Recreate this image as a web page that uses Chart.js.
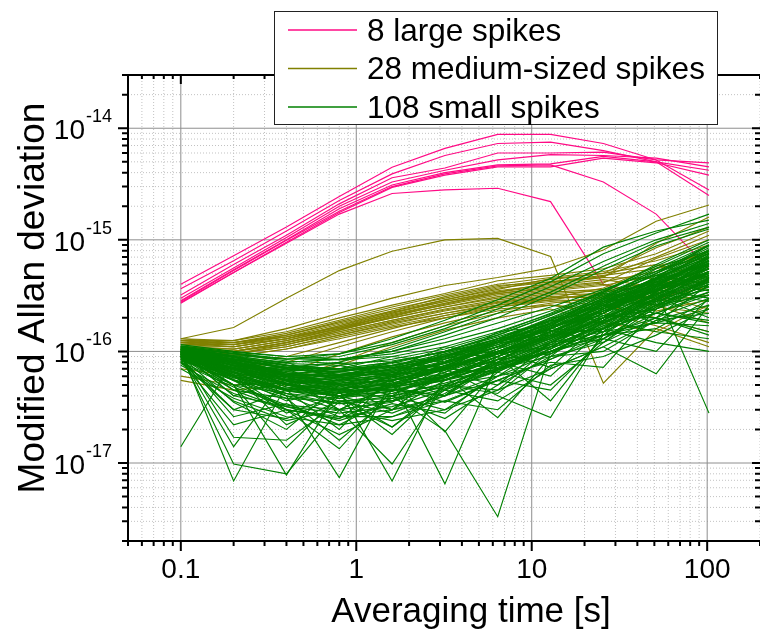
<!DOCTYPE html>
<html>
<head>
<meta charset="utf-8">
<script src="https://cdn.jsdelivr.net/npm/chart.js@4.4.0/dist/chart.umd.min.js"></script>
<style>
  body { margin: 0; background: #fff; }
  canvas { display: block; }
</style>
</head>
<body>
<canvas id="allan" width="760" height="637"></canvas>
<script>
// averaging times [s]
const tau = [0.1, 0.2, 0.4, 0.8, 1.6, 3.2, 6.4, 12.8, 25.6, 51.2, 102.4];
// all deviations below are given in units of 1e-16
const UNIT = 1e-16;

const largeSpikes = [
  [4.0, 7.2, 13, 24.5, 44.7, 66, 88, 88, 73, 52, 28],
  [3.65, 6.5, 12, 22.5, 39, 57, 73, 75, 63, 50, 25],
  [3.2, 6.0, 11, 21, 36, 44, 60, 60, 61, 52, 49],
  [3.0, 5.6, 10.5, 20, 33, 42, 52, 58, 57, 54, 45],
  [2.85, 5.4, 10, 19, 31, 40, 47, 48, 56, 50, 42],
  [2.7, 5.1, 9.5, 17.6, 29.5, 38, 45, 45, 54, 49, 38],
  [2.8, 5.3, 9.9, 18, 30, 39, 46, 47, 33, 17, 5.5],
  [2.75, 5.1, 9.3, 17, 26, 28, 29, 22, 4.0, 2.9, 4.3]
];

const mediumSpikes = [
  [1.3, 1.64, 3.0, 5.3, 7.9, 10, 10.3, 7.1, 0.52, 1.6, 1.1],
  [1.25, 1.25, 1.6, 2.2, 3.0, 3.9, 4.6, 5.6, 8.1, 14.7, 20.5],
  [1.3, 1.25, 1.5, 2.0, 2.6, 3.3, 4.3, 4.8, 5.5, 7.5, 12],
  [1.25, 1.2, 1.45, 1.9, 2.5, 3.2, 4.0, 4.6, 5.2, 6.5, 9],
  [1.2, 1.2, 1.4, 1.85, 2.4, 3.0, 3.8, 4.4, 5.0, 6.0, 4.6],
  [1.2, 1.15, 1.4, 1.8, 2.3, 2.9, 3.7, 4.2, 4.8, 5.5, 7],
  [1.15, 1.15, 1.35, 1.75, 2.25, 2.8, 3.5, 4.0, 4.6, 4.5, 3.5],
  [1.15, 1.1, 1.3, 1.7, 2.2, 2.8, 3.4, 3.9, 4.4, 3.8, 5.5],
  [1.1, 1.1, 1.3, 1.65, 2.1, 2.7, 3.3, 3.8, 4.2, 5.2, 8],
  [1.1, 1.05, 1.25, 1.6, 2.1, 2.6, 3.2, 3.6, 4.0, 3.2, 2.4],
  [1.1, 1.05, 1.25, 1.6, 2.0, 2.5, 3.1, 3.5, 3.9, 4.8, 6],
  [1.05, 1.0, 1.2, 1.55, 2.0, 2.5, 3.0, 3.4, 3.6, 2.8, 3.2],
  [1.05, 1.0, 1.2, 1.5, 1.9, 2.4, 2.9, 3.3, 3.5, 4.2, 5.0],
  [1.0, 1.0, 1.15, 1.5, 1.9, 2.35, 2.8, 3.2, 3.3, 2.6, 1.8],
  [1.0, 0.95, 1.15, 1.45, 1.85, 2.3, 2.75, 3.1, 3.0, 3.6, 4.4],
  [1.0, 0.95, 1.1, 1.4, 1.8, 2.2, 2.7, 3.0, 3.2, 2.3, 2.9],
  [0.95, 0.95, 1.1, 1.4, 1.75, 2.2, 2.6, 2.9, 2.8, 3.0, 3.8],
  [0.95, 0.9, 1.05, 1.35, 1.7, 2.1, 2.5, 2.8, 2.6, 2.0, 1.5],
  [1.3, 1.2, 1.35, 1.65, 2.2, 2.9, 3.6, 4.5, 5.0, 8.5, 13],
  [1.2, 1.1, 1.3, 1.7, 2.3, 3.1, 3.9, 4.2, 4.6, 9.3, 16],
  [1.1, 1.0, 1.2, 1.55, 2.05, 2.65, 3.3, 3.7, 4.1, 6.8, 10],
  [0.85, 0.7, 0.8, 1.1, 1.5, 2.0, 2.5, 2.9, 3.4, 4.0, 4.6],
  [0.7, 0.6, 0.65, 0.95, 1.35, 1.8, 2.3, 2.7, 3.1, 2.5, 2.2],
  [0.6, 0.5, 0.55, 0.8, 1.2, 1.7, 2.2, 2.6, 2.4, 3.3, 5.2],
  [0.55, 0.45, 0.5, 0.75, 1.1, 1.55, 2.0, 2.4, 1.8, 1.5, 2.6],
  [0.9, 0.8, 0.9, 1.2, 1.6, 2.1, 2.6, 3.0, 3.7, 5.8, 7.5],
  [1.25, 1.15, 1.3, 1.6, 2.15, 2.7, 3.4, 4.1, 4.7, 7.0, 11],
  [1.0, 0.9, 1.05, 1.3, 1.65, 2.0, 2.4, 2.6, 2.2, 1.7, 1.2]
];

const smallSpikes = [
  [1.1, 0.9, 0.75, 0.7, 0.8, 1.0, 1.4, 2.1, 3.4, 6.0, 10],
  [1.05, 0.85, 0.72, 0.8, 1.05, 1.5, 2.2, 3.4, 5.8, 9.5, 13],
  [1.0, 0.8, 0.62, 0.6, 0.7, 0.9, 1.25, 1.9, 3.0, 5.0, 8.5],
  [0.95, 0.7, 0.55, 0.5, 0.55, 0.75, 1.1, 1.7, 2.8, 4.6, 7.0],
  [1.0, 0.75, 0.5, 0.42, 0.5, 0.7, 1.0, 1.5, 2.4, 4.2, 6.5],
  [0.9, 0.6, 0.45, 0.4, 0.48, 0.65, 0.95, 1.4, 2.3, 3.8, 5.5],
  [1.1, 0.95, 0.85, 0.95, 1.3, 1.9, 2.9, 4.5, 8.6, 12, 15],
  [0.85, 0.55, 0.38, 0.35, 0.42, 0.6, 0.9, 1.35, 2.2, 3.6, 6.0],
  [1.0, 0.85, 0.8, 0.85, 1.0, 1.3, 1.8, 2.5, 3.6, 5.2, 7.5],
  [0.95, 0.75, 0.6, 0.55, 0.62, 0.8, 1.15, 1.6, 2.5, 3.5, 4.8],
  [1.05, 0.8, 0.55, 0.45, 0.45, 0.55, 0.8, 1.2, 2.0, 3.2, 5.2],
  [0.9, 0.65, 0.5, 0.48, 0.58, 0.8, 1.2, 1.8, 3.0, 5.5, 9.0],
  [1.0, 0.9, 0.7, 0.65, 0.75, 0.95, 1.3, 2.0, 3.1, 4.4, 6.0],
  [0.8, 0.5, 0.33, 0.3, 0.36, 0.5, 0.75, 1.1, 1.8, 3.0, 4.8],
  [1.15, 1.0, 0.9, 0.85, 0.95, 1.2, 1.6, 2.3, 3.4, 5.6, 8.0],
  [0.95, 0.72, 0.58, 0.5, 0.5, 0.6, 0.85, 1.3, 2.1, 3.3, 5.0],
  [1.0, 0.82, 0.66, 0.62, 0.68, 0.85, 1.2, 1.75, 2.7, 4.0, 6.5],
  [0.88, 0.62, 0.45, 0.36, 0.38, 0.48, 0.7, 1.05, 1.7, 2.8, 4.2],
  [1.05, 0.92, 0.78, 0.75, 0.85, 1.05, 1.45, 2.2, 3.5, 5.8, 9.5],
  [0.92, 0.7, 0.52, 0.44, 0.45, 0.55, 0.78, 1.15, 1.9, 3.4, 6.0],
  [1.0, 0.78, 0.6, 0.52, 0.55, 0.68, 0.95, 1.45, 2.4, 4.0, 7.0],
  [1.08, 0.95, 0.82, 0.78, 0.82, 0.98, 1.3, 1.85, 2.8, 4.2, 6.2],
  [0.78, 0.48, 0.32, 0.28, 0.32, 0.45, 0.68, 1.05, 1.8, 3.2, 5.5],
  [0.98, 0.8, 0.68, 0.66, 0.78, 1.0, 1.4, 2.1, 3.2, 4.8, 7.2],
  [0.9, 0.68, 0.5, 0.4, 0.4, 0.48, 0.68, 1.0, 1.6, 2.6, 4.0],
  [1.12, 0.98, 0.9, 0.95, 1.2, 1.7, 2.6, 4.2, 7.5, 11.5, 17],
  [0.95, 0.74, 0.56, 0.47, 0.5, 0.62, 0.9, 1.35, 2.2, 3.8, 6.8],
  [1.02, 0.86, 0.72, 0.7, 0.8, 1.0, 1.35, 1.9, 2.9, 4.4, 6.8],
  [0.86, 0.58, 0.42, 0.38, 0.44, 0.58, 0.85, 1.25, 2.0, 3.2, 5.0],
  [1.0, 0.8, 0.64, 0.58, 0.64, 0.82, 1.1, 1.6, 2.5, 4.1, 6.2],
  [0.94, 0.76, 0.62, 0.6, 0.7, 0.92, 1.3, 1.95, 3.1, 5.2, 8.8],
  [1.06, 0.88, 0.74, 0.68, 0.72, 0.86, 1.15, 1.6, 2.4, 3.6, 5.2],
  [0.9, 0.64, 0.46, 0.4, 0.44, 0.56, 0.8, 1.2, 1.9, 3.0, 4.6],
  [0.98, 0.78, 0.6, 0.54, 0.6, 0.78, 1.1, 1.65, 2.7, 4.5, 7.6],
  [1.04, 0.9, 0.8, 0.85, 1.0, 1.4, 2.0, 3.2, 5.4, 8.8, 12.5],
  [0.84, 0.56, 0.4, 0.34, 0.36, 0.46, 0.66, 1.0, 1.65, 2.7, 4.4],
  [1.0, 0.84, 0.7, 0.64, 0.66, 0.78, 1.05, 1.5, 2.3, 3.7, 5.8],
  [0.92, 0.7, 0.54, 0.5, 0.56, 0.72, 1.0, 1.5, 2.4, 3.9, 6.4],
  [1.1, 0.96, 0.86, 0.84, 0.9, 1.1, 1.5, 2.15, 3.3, 5.0, 7.8],
  [0.96, 0.76, 0.58, 0.48, 0.48, 0.56, 0.76, 1.1, 1.75, 2.9, 4.5],
  [1.0, 0.7, 0.6, 0.75, 0.6, 0.9, 1.3, 1.5, 2.6, 3.2, 5.5],
  [0.9, 0.8, 0.5, 0.6, 0.8, 0.7, 1.2, 2.0, 2.2, 4.8, 4.0],
  [1.05, 0.75, 0.8, 0.55, 0.7, 1.1, 0.95, 1.8, 3.0, 2.6, 6.0],
  [0.95, 0.6, 0.7, 0.45, 0.65, 0.6, 1.0, 1.3, 2.8, 4.0, 3.5],
  [0.85, 0.7, 0.45, 0.55, 0.4, 0.75, 0.8, 1.6, 1.5, 3.4, 6.5],
  [1.08, 0.85, 0.62, 0.7, 0.9, 0.8, 1.5, 1.7, 3.3, 3.0, 7.0],
  [0.92, 0.66, 0.5, 0.42, 0.6, 0.55, 0.9, 1.4, 1.6, 3.8, 5.0],
  [1.0, 0.9, 0.6, 0.5, 0.45, 0.8, 0.7, 1.25, 2.0, 2.4, 4.2],
  [0.88, 0.5, 0.52, 0.38, 0.5, 0.46, 0.85, 0.95, 1.9, 3.3, 2.8],
  [1.02, 0.78, 0.68, 0.8, 0.62, 1.0, 1.2, 1.3, 2.4, 4.4, 8.0],
  [0.96, 0.82, 0.55, 0.62, 0.75, 0.65, 1.05, 1.9, 1.8, 3.0, 5.8],
  [0.9, 0.58, 0.6, 0.4, 0.55, 0.7, 0.65, 1.2, 2.1, 2.0, 4.6],
  [1.06, 0.7, 0.72, 0.6, 0.5, 0.85, 1.1, 1.05, 2.5, 3.6, 3.0],
  [0.82, 0.6, 0.36, 0.46, 0.42, 0.5, 0.78, 1.0, 1.3, 2.6, 4.0],
  [1.0, 0.74, 0.56, 0.66, 0.8, 0.72, 1.3, 1.6, 2.9, 2.8, 6.2],
  [0.94, 0.86, 0.64, 0.5, 0.66, 0.9, 0.8, 1.5, 2.2, 4.2, 3.8],
  [0.98, 0.64, 0.46, 0.52, 0.36, 0.62, 0.72, 1.15, 1.4, 2.9, 5.2],
  [1.1, 0.88, 0.76, 0.62, 0.72, 0.68, 1.25, 1.4, 2.7, 3.4, 7.4],
  [0.9, 0.72, 0.52, 0.58, 0.48, 0.58, 0.95, 1.1, 1.7, 2.2, 3.2],
  [1.04, 0.8, 0.66, 0.56, 0.62, 0.95, 0.9, 1.7, 2.0, 4.6, 9.0],
  [1.0, 0.069, 0.5, 0.55, 0.7, 0.9, 1.3, 1.9, 3.0, 4.5, 7.0],
  [0.9, 0.5, 0.078, 0.45, 0.6, 0.8, 1.1, 1.6, 2.6, 4.0, 6.0],
  [0.95, 0.6, 0.4, 0.074, 0.55, 0.7, 1.0, 1.5, 2.4, 3.8, 5.5],
  [1.05, 0.7, 0.5, 0.45, 0.069, 0.6, 0.9, 1.4, 2.2, 3.5, 5.0],
  [0.85, 0.55, 0.45, 0.5, 0.55, 0.065, 0.8, 1.2, 2.0, 3.2, 5.2],
  [0.95, 0.55, 0.3, 0.25, 0.4, 0.195, 0.033, 1.0, 1.6, 3.0, 5.0],
  [0.14, 0.83, 0.5, 0.4, 0.5, 0.7, 1.0, 1.5, 2.3, 3.6, 5.6],
  [0.9, 0.14, 0.6, 0.3, 0.5, 0.6, 0.9, 1.3, 2.0, 3.0, 4.4],
  [1.0, 0.5, 0.137, 0.4, 0.3, 0.55, 0.7, 1.1, 1.8, 2.8, 4.2],
  [0.88, 0.45, 0.3, 0.134, 0.45, 0.4, 0.75, 1.0, 1.6, 2.6, 4.0],
  [0.95, 0.17, 0.16, 0.35, 0.21, 0.5, 0.6, 1.2, 1.5, 2.5, 3.8],
  [1.02, 0.6, 0.3, 0.25, 0.55, 0.19, 0.7, 0.9, 2.0, 2.4, 4.5],
  [0.92, 0.098, 0.08, 0.3, 0.098, 0.5, 0.45, 1.1, 1.3, 2.6, 3.2],
  [0.8, 0.3, 0.45, 0.2, 0.6, 0.4, 0.9, 0.36, 1.4, 2.0, 3.0],
  [0.98, 0.4, 0.55, 0.3, 0.35, 0.6, 0.255, 0.9, 1.2, 2.8, 3.6],
  [0.9, 0.35, 0.2, 0.5, 0.3, 0.7, 0.4, 0.255, 1.5, 1.8, 4.0],
  [1.0, 0.45, 0.38, 0.16, 0.4, 0.3, 0.6, 0.8, 0.72, 2.4, 3.4],
  [0.86, 0.3, 0.25, 0.4, 0.21, 0.45, 0.36, 0.7, 1.1, 0.63, 2.6],
  [0.94, 0.5, 0.42, 0.3, 0.5, 0.35, 0.55, 0.45, 1.3, 1.0, 3.0],
  [1.04, 0.62, 0.22, 0.36, 0.28, 0.42, 0.8, 0.6, 1.6, 2.2, 1.8],
  [0.9, 0.26, 0.34, 0.22, 0.38, 0.25, 0.5, 0.9, 1.0, 1.9, 2.2],
  [0.96, 0.56, 0.28, 0.4, 0.18, 0.5, 0.42, 1.0, 1.4, 1.6, 2.9],
  [1.0, 0.4, 0.32, 0.24, 0.34, 0.28, 0.65, 0.5, 1.2, 2.0, 1.5],
  [0.82, 0.22, 0.3, 0.18, 0.3, 0.36, 0.3, 0.75, 0.9, 1.4, 2.4],
  [0.95, 0.66, 0.4, 0.26, 0.26, 0.4, 0.55, 0.85, 1.4, 3.5, 0.28],
  [1.0, 0.8, 0.6, 0.5, 0.56, 0.7, 1.0, 1.4, 1.6, 1.2, 1.0],
  [0.92, 0.7, 0.48, 0.4, 0.44, 0.6, 0.9, 1.3, 1.9, 1.5, 1.3],
  [1.06, 0.84, 0.7, 0.66, 0.74, 0.9, 1.2, 1.7, 2.1, 2.0, 1.4],
  [0.9, 0.6, 0.42, 0.34, 0.4, 0.52, 0.7, 1.0, 1.4, 1.8, 1.7],
  [0.98, 0.76, 0.62, 0.58, 0.66, 0.86, 1.2, 1.8, 2.6, 2.2, 1.9],
  [0.75, 0.42, 0.3, 0.26, 0.3, 0.4, 0.6, 0.95, 1.5, 2.4, 3.8],
  [0.7, 0.38, 0.26, 0.22, 0.26, 0.36, 0.55, 0.85, 1.3, 2.2, 3.4],
  [0.8, 0.36, 0.24, 0.3, 0.24, 0.3, 0.45, 0.7, 1.1, 1.9, 2.6],
  [1.1, 0.9, 0.75, 0.7, 0.75, 0.9, 1.2, 1.6, 2.6, 1.8, 2.4],
  [1.0, 0.74, 0.54, 0.46, 0.52, 0.68, 0.98, 1.5, 2.3, 3.1, 2.0],
  [0.93, 0.72, 0.56, 0.52, 0.6, 0.78, 1.1, 1.55, 1.2, 2.5, 4.6],
  [1.02, 0.8, 0.62, 0.54, 0.58, 0.74, 1.0, 0.72, 1.9, 3.4, 5.8],
  [0.87, 0.64, 0.46, 0.42, 0.48, 0.64, 0.5, 1.2, 2.0, 3.6, 6.2],
  [0.97, 0.7, 0.5, 0.44, 0.46, 0.4, 0.85, 1.3, 2.2, 3.9, 7.0],
  [1.05, 0.82, 0.64, 0.6, 0.64, 0.8, 1.1, 1.6, 2.5, 3.9, 6.0],
  [0.88, 0.6, 0.44, 0.4, 0.5, 0.7, 1.05, 1.6, 2.6, 4.4, 7.5],
  [1.0, 0.84, 0.72, 0.68, 0.74, 0.92, 1.25, 1.8, 2.8, 4.6, 8.2],
  [0.93, 0.66, 0.48, 0.43, 0.47, 0.6, 0.84, 1.2, 1.85, 2.9, 4.3],
  [1.08, 0.92, 0.85, 0.9, 1.15, 1.6, 2.4, 3.8, 6.4, 10, 14],
  [0.96, 0.68, 0.5, 0.46, 0.54, 0.74, 1.1, 1.7, 2.9, 5.0, 9.0],
  [1.02, 0.86, 0.7, 0.62, 0.62, 0.72, 0.95, 1.35, 2.0, 3.1, 4.7],
  [0.9, 0.62, 0.46, 0.44, 0.52, 0.7, 1.0, 1.5, 2.3, 3.5, 5.2],
  [0.98, 0.78, 0.64, 0.6, 0.68, 0.88, 1.22, 1.75, 2.7, 4.3, 6.6]
];

const groupLabels = ['8 large spikes', '28 medium-sized spikes', '108 small spikes'];
const groupColors = ['#ff0a85', '#808000', '#008000'];

const xTicks = [0.1, 1, 10, 100];
const xTickLabels = ['0.1', '1', '10', '100'];
const yTickExponents = [-17, -16, -15, -14];

const X_MIN = 0.05, X_MAX = 200, Y_MIN = 2e-18, Y_MAX = 3e-14;
const FONT = '"Liberation Sans", Arial, sans-serif';

function minorTicks(min, max) {
  const out = [];
  for (let e = Math.floor(Math.log10(min)); e <= Math.ceil(Math.log10(max)); e++) {
    for (let m = 2; m <= 9; m++) {
      const v = m * Math.pow(10, e);
      if (v >= min * 0.999 && v <= max * 1.001) out.push(v);
    }
  }
  return out;
}
const xMinor = minorTicks(X_MIN, X_MAX);
const yMinor = minorTicks(Y_MIN, Y_MAX);
const yMajor = yTickExponents.map(e => Math.pow(10, e));

function series(rows, color, order) {
  return rows.map(r => ({
    data: r.map((v, i) => ({ x: tau[i], y: v * UNIT })),
    borderColor: color,
    borderWidth: 1.15,
    pointRadius: 0,
    fill: false,
    tension: 0,
    order: order
  }));
}

const datasets = [
  ...series(largeSpikes, groupColors[0], 2),
  ...series(mediumSpikes, groupColors[1], 1),
  ...series(smallSpikes, groupColors[2], 0)
];

const frame = {
  id: 'frame',
  beforeDatasetsDraw(chart) {
    const { ctx, chartArea: a, scales: { x, y } } = chart;
    ctx.save();
    ctx.lineWidth = 1;
    ctx.strokeStyle = '#c2c2c2';
    ctx.setLineDash([1, 2]);
    ctx.beginPath();
    xMinor.forEach(v => { const p = x.getPixelForValue(v); ctx.moveTo(p, a.top); ctx.lineTo(p, a.bottom); });
    yMinor.forEach(v => { const p = y.getPixelForValue(v); ctx.moveTo(a.left, p); ctx.lineTo(a.right, p); });
    ctx.stroke();
    ctx.setLineDash([]);
    ctx.strokeStyle = '#8e8e8e';
    ctx.beginPath();
    xTicks.forEach(v => { const p = x.getPixelForValue(v); ctx.moveTo(p, a.top); ctx.lineTo(p, a.bottom); });
    yMajor.forEach(v => { const p = y.getPixelForValue(v); ctx.moveTo(a.left, p); ctx.lineTo(a.right, p); });
    ctx.stroke();
    ctx.restore();
  },
  afterDatasetsDraw(chart) {
    const { ctx, chartArea: a, scales: { x, y } } = chart;
    ctx.save();
    ctx.strokeStyle = '#000';
    ctx.lineWidth = 2;
    ctx.beginPath();
    // axis lines: left, bottom, top
    ctx.moveTo(a.left, a.top - 1); ctx.lineTo(a.left, a.bottom + 1);
    ctx.moveTo(a.left - 1, a.bottom); ctx.lineTo(a.right, a.bottom);
    ctx.moveTo(a.left - 1, a.top); ctx.lineTo(a.right, a.top);
    // x ticks (bottom outward, top inward)
    xTicks.forEach(v => {
      const p = x.getPixelForValue(v);
      ctx.moveTo(p, a.bottom); ctx.lineTo(p, a.bottom + 10);
      ctx.moveTo(p, a.top); ctx.lineTo(p, a.top + 9);
    });
    xMinor.forEach(v => {
      const p = x.getPixelForValue(v);
      ctx.moveTo(p, a.bottom); ctx.lineTo(p, a.bottom + 5);
      ctx.moveTo(p, a.top); ctx.lineTo(p, a.top + 4);
    });
    // y ticks (left outward, right inward)
    yMajor.forEach(v => {
      const p = y.getPixelForValue(v);
      ctx.moveTo(a.left, p); ctx.lineTo(a.left - 10, p);
      ctx.moveTo(a.right, p); ctx.lineTo(a.right - 8, p);
    });
    yMinor.forEach(v => {
      const p = y.getPixelForValue(v);
      ctx.moveTo(a.left, p); ctx.lineTo(a.left - 6, p);
      ctx.moveTo(a.right, p); ctx.lineTo(a.right - 5, p);
    });
    ctx.stroke();
    ctx.restore();
  },
  afterDraw(chart) {
    const { ctx, chartArea: a, scales: { x, y } } = chart;
    ctx.save();
    ctx.fillStyle = '#000';
    ctx.textBaseline = 'alphabetic';

    // x tick labels
    ctx.font = '28px ' + FONT;
    ctx.textAlign = 'center';
    xTicks.forEach((v, i) => ctx.fillText(xTickLabels[i], x.getPixelForValue(v), a.bottom + 37));

    // y tick labels 10^e
    ctx.textAlign = 'right';
    yTickExponents.forEach(e => {
      const p = y.getPixelForValue(Math.pow(10, e));
      ctx.font = '18px ' + FONT;
      const sup = String(e);
      const w = ctx.measureText(sup).width;
      ctx.fillText(sup, a.left - 16, p - 6);
      ctx.font = '28px ' + FONT;
      ctx.fillText('10', a.left - 17 - w, p + 11);
    });

    // axis titles
    ctx.textAlign = 'center';
    ctx.font = '35px ' + FONT;
    ctx.fillText('Averaging time [s]', 471, 622);
    ctx.save();
    ctx.translate(44, 298);
    ctx.rotate(-Math.PI / 2);
    ctx.font = '37px ' + FONT;
    ctx.fillText('Modified Allan deviation', 0, 0);
    ctx.restore();

    // legend
    ctx.fillStyle = '#fff';
    ctx.fillRect(275, 12, 442, 112);
    ctx.strokeStyle = '#222';
    ctx.lineWidth = 1;
    ctx.strokeRect(274.5, 11.5, 443, 113);
    ctx.font = '31.5px ' + FONT;
    ctx.textAlign = 'left';
    groupLabels.forEach((label, i) => {
      const ly = 30 + i * 38.5;
      ctx.strokeStyle = groupColors[i];
      ctx.lineWidth = 1.5;
      ctx.beginPath();
      ctx.moveTo(288, ly);
      ctx.lineTo(357, ly);
      ctx.stroke();
      ctx.fillStyle = '#000';
      ctx.fillText(label, 367, ly + 10.5);
    });
    ctx.restore();
  }
};

new Chart(document.getElementById('allan').getContext('2d'), {
  type: 'line',
  data: { datasets: datasets },
  options: {
    responsive: false,
    animation: false,
    devicePixelRatio: 1,
    layout: { padding: { top: 75, left: 0, right: 0, bottom: 0 } },
    plugins: { legend: { display: false }, tooltip: { enabled: false } },
    scales: {
      x: {
        type: 'logarithmic', min: X_MIN, max: X_MAX,
        grid: { display: false }, border: { display: false },
        ticks: { display: false },
        afterFit: s => { s.height = 96; }
      },
      y: {
        type: 'logarithmic', min: Y_MIN, max: Y_MAX,
        grid: { display: false }, border: { display: false },
        ticks: { display: false },
        afterFit: s => { s.width = 128; }
      }
    }
  },
  plugins: [frame]
});
</script>
</body>
</html>
